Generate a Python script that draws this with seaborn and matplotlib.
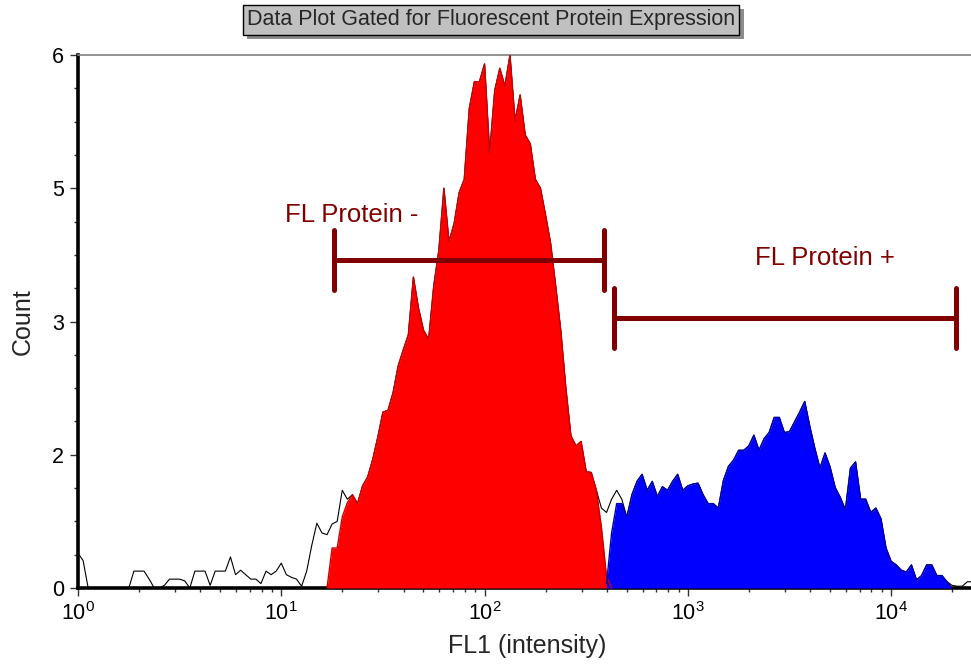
import matplotlib
matplotlib.use("Agg")
import matplotlib.pyplot as plt
import matplotlib.patheffects as pe
from matplotlib.ticker import FixedLocator, LogLocator, NullFormatter
import numpy as np
import seaborn as sns

# histogram channels on a log10(FL1) grid
channel_log10 = np.round(np.arange(177) * 0.025, 3)

# ungated counts (black outline), one value per channel
total_counts = [
    0.39, 0.31, 0.00, 0.00, 0.00, 0.00, 0.00, 0.00, 0.00, 0.00,
    0.00, 0.19, 0.19, 0.19, 0.10, 0.00, 0.00, 0.03, 0.10, 0.10,
    0.10, 0.08, 0.00, 0.19, 0.19, 0.19, 0.03, 0.19, 0.19, 0.19,
    0.35, 0.15, 0.20, 0.15, 0.10, 0.10, 0.05, 0.19, 0.15, 0.19,
    0.28, 0.15, 0.12, 0.10, 0.02, 0.19, 0.48, 0.73, 0.62, 0.60,
    0.72, 0.75, 1.10, 1.00, 1.05, 0.95, 1.15, 1.25, 1.45, 1.70,
    1.98, 2.00, 2.20, 2.50, 2.68, 2.85, 3.50, 3.15, 2.90, 2.80,
    3.40, 3.80, 4.50, 3.90, 4.10, 4.45, 4.60, 5.40, 5.70, 5.70,
    5.90, 4.90, 5.60, 5.85, 5.65, 6.00, 5.26, 5.55, 5.10, 5.00,
    4.60, 4.50, 4.20, 3.88, 3.40, 2.90, 2.25, 1.71, 1.60, 1.65,
    1.31, 1.30, 1.10, 0.90, 0.85, 1.00, 1.10, 1.00, 0.80, 1.05,
    1.20, 1.28, 1.10, 1.20, 1.03, 1.14, 1.10, 1.20, 1.28, 1.10,
    1.15, 1.17, 1.18, 1.05, 0.95, 0.95, 0.90, 1.21, 1.37, 1.44,
    1.55, 1.55, 1.60, 1.72, 1.55, 1.68, 1.75, 1.92, 1.92, 1.75,
    1.76, 1.87, 1.98, 2.10, 1.82, 1.57, 1.35, 1.52, 1.36, 1.13,
    1.02, 0.88, 1.35, 1.42, 1.00, 1.00, 0.85, 0.90, 0.78, 0.45,
    0.30, 0.26, 0.20, 0.18, 0.26, 0.09, 0.14, 0.26, 0.26, 0.14,
    0.14, 0.07, 0.03, 0.02, 0.02, 0.07, 0.07,
]

# gated counts: "FL Protein -" (red) from channel 49, "FL Protein +" (blue) from channel 104
red_first = 49
red_counts = [
    0.00, 0.45, 0.45, 0.80, 0.96, 1.05, 0.95, 1.15, 1.25, 1.45,
    1.70, 1.98, 2.00, 2.20, 2.50, 2.68, 2.85, 3.50, 3.15, 2.90,
    2.80, 3.40, 3.80, 4.50, 3.90, 4.10, 4.45, 4.60, 5.40, 5.70,
    5.70, 5.90, 4.90, 5.60, 5.85, 5.65, 6.00, 5.26, 5.55, 5.10,
    5.00, 4.60, 4.50, 4.20, 3.88, 3.40, 2.90, 2.25, 1.71, 1.60,
    1.65, 1.31, 1.30, 1.10, 0.68, 0.13, 0.00,
]
blue_first = 104
blue_counts = [
    0.05, 0.62, 0.95, 0.95, 0.80, 1.05, 1.20, 1.28, 1.10, 1.20,
    1.03, 1.14, 1.10, 1.20, 1.28, 1.10, 1.15, 1.17, 1.18, 1.05,
    0.95, 0.95, 0.90, 1.21, 1.37, 1.44, 1.55, 1.55, 1.60, 1.72,
    1.55, 1.68, 1.75, 1.92, 1.92, 1.75, 1.76, 1.87, 1.98, 2.10,
    1.82, 1.57, 1.35, 1.52, 1.36, 1.13, 1.02, 0.88, 1.35, 1.42,
    1.00, 1.00, 0.85, 0.90, 0.78, 0.45, 0.30, 0.26, 0.20, 0.18,
    0.26, 0.09, 0.14, 0.26, 0.26, 0.14, 0.14, 0.07, 0.00,
]

# gates: (low FL1, high FL1, count level, label)
gate_neg = (18.2, 386.0, 3.69, "FL Protein -")
gate_pos = (434.0, 20750.0, 3.04, "FL Protein +")
gate_neg_label_pos = (10.4, 4.20)
gate_pos_label_pos = (2140.0, 3.72)

y_tick_values = [0, 1.5, 3, 4.5, 6]
y_tick_labels = ["0", "2", "3", "5", "6"]

title = "Data Plot Gated for Fluorescent Protein Expression"

sns.set_theme(style="ticks")
plt.rcParams["font.family"] = ["Liberation Sans", "DejaVu Sans"]
plt.rcParams["mathtext.fontset"] = "custom"
plt.rcParams["mathtext.rm"] = "Liberation Sans"
plt.rcParams["mathtext.it"] = "Liberation Sans:italic"
plt.rcParams["mathtext.bf"] = "Liberation Sans:bold"

fig = plt.figure(figsize=(9.71, 6.68), dpi=100)
ax = fig.add_axes([78 / 971, 80 / 668, 893 / 971, 533 / 668])

fl1 = 10 ** channel_log10
red_x = fl1[red_first:red_first + len(red_counts)]
blue_x = fl1[blue_first:blue_first + len(blue_counts)]

sns.lineplot(x=fl1, y=total_counts, color="black", lw=0.8, ax=ax,
             estimator=None, sort=False, zorder=2)
ax.fill_between(red_x, 0, red_counts, color="#ff0000", lw=0, zorder=3)
sns.lineplot(x=red_x, y=red_counts, color="#c80000", lw=1.0, ax=ax,
             estimator=None, sort=False, zorder=4)
ax.fill_between(blue_x, 0, blue_counts, color="#0000ff", lw=0, zorder=3)
sns.lineplot(x=blue_x, y=blue_counts, color="#0000a8", lw=1.0, ax=ax,
             estimator=None, sort=False, zorder=4)

gate_color = "#800000"
for lo, hi, level, _ in (gate_neg, gate_pos):
    ax.plot([lo, hi], [level, level], color=gate_color, lw=3.6,
            solid_capstyle="butt", zorder=6)
    for xe in (lo, hi):
        ax.plot([xe, xe], [level - 0.34, level + 0.34], color=gate_color,
                lw=3.6, solid_capstyle="round", zorder=6)
ax.text(*gate_neg_label_pos, gate_neg[3], color=gate_color, fontsize=18.5,
        ha="left", va="center", zorder=7)
ax.text(*gate_pos_label_pos, gate_pos[3], color=gate_color, fontsize=18.5,
        ha="left", va="center", zorder=7)

ax.set_xscale("log")
ax.set_xlim(1, 10 ** 4.393)
ax.set_ylim(0, 6)
ax.xaxis.set_major_locator(LogLocator(base=10, numticks=10))
ax.xaxis.set_minor_locator(LogLocator(base=10, subs=np.arange(2, 10), numticks=20))
ax.xaxis.set_minor_formatter(NullFormatter())
ax.set_yticks(y_tick_values)
ax.set_yticklabels(y_tick_labels)
ax.yaxis.set_minor_locator(FixedLocator(np.arange(0, 6.01, 0.375)))

ax.tick_params(axis="both", which="major", length=6, width=1, color="#333333",
               labelsize=15.5, labelcolor="black", direction="out", pad=4)
ax.tick_params(axis="both", which="minor", length=3, width=1, color="#333333",
               direction="out")

for side in ("left", "bottom"):
    ax.spines[side].set_linewidth(2.6)
    ax.spines[side].set_color("black")
ax.spines["top"].set_linewidth(1.2)
ax.spines["top"].set_color("#808080")
ax.spines["right"].set_visible(False)

ax.set_ylabel("Count", fontsize=18)
ax.yaxis.set_label_coords(-0.048, 0.5)
ax.set_xlabel("FL1 (intensity)", fontsize=18)
ax.xaxis.set_label_coords(0.503, -0.086)

t = fig.text(491 / 971, 1 - 20 / 668, title, ha="center", va="center",
             fontsize=15.5, family=["Liberation Sans", "DejaVu Sans"],
             bbox=dict(boxstyle="square,pad=0.2", fc="#c0c0c0", ec="black", lw=1))
t.get_bbox_patch().set_path_effects(
    [pe.withSimplePatchShadow(offset=(3, -3), shadow_rgbFace="#8c8c8c", alpha=1.0)])

fig.savefig("out.png", dpi=100)
